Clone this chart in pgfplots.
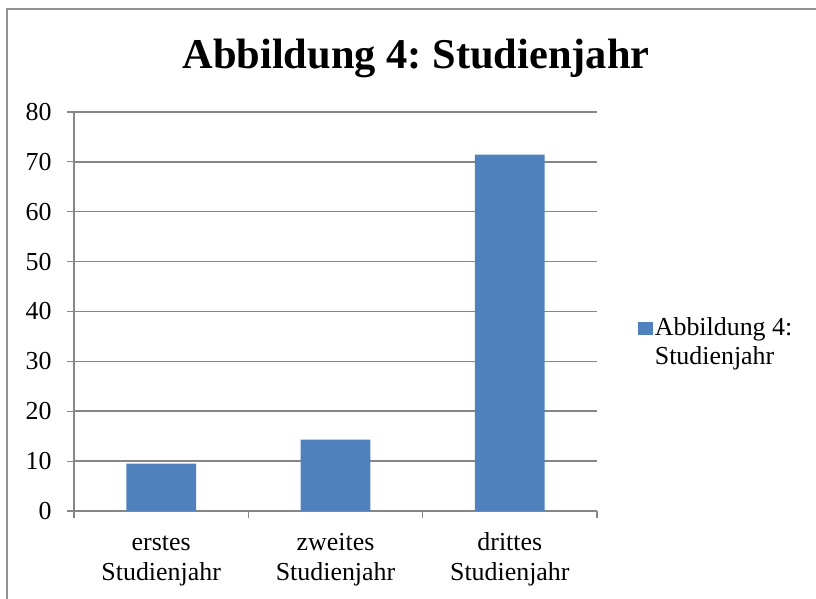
\documentclass[border=0pt]{standalone}
\usepackage{fontspec}
\setmainfont{Liberation Serif}
\usepackage{pgfplots}
\pgfplotsset{compat=1.18}
\definecolor{barblue}{HTML}{4F81BD}
\definecolor{gridgray}{HTML}{868686}
\begin{document}
\frenchspacing
\begin{tikzpicture}[x=1bp,y=1bp]
\path[use as bounding box] (0,0) rectangle (816,599);
\draw[gridgray!90, line width=1.2bp] (7,-5) -- (7,590) -- (821,590);
\node[font=\fontsize{42.6}{48}\selectfont\bfseries, anchor=base, inner sep=0pt] at (416,530.7) {Abbildung 4: Studienjahr};
\begin{axis}[
  at={(74bp,88bp)}, anchor=south west, scale only axis,
  width=523bp, height=399bp,
  xmin=-0.5, xmax=2.5, ymin=0, ymax=80, ytick={0,10,...,80},
  axis lines*=left,
  axis line style={gridgray, line width=1.2bp},
  ymajorgrids, major grid style={gridgray, line width=1.5bp},
  tick align=outside, major tick length=7bp,
  tick style={gridgray, line width=1.2bp},
  xtick={-0.5,0.5,1.5,2.5}, xticklabels={},
  extra x ticks={0,1,2},
  extra x tick labels={{\strut erstes\\Studienjahr},{\strut zweites\\Studienjahr},{\strut drittes\\Studienjahr}},
  extra x tick style={major tick length=0pt, xticklabel style={align=center, font=\fontsize{26}{30}\selectfont, yshift=-15bp}},
  yticklabel style={font=\fontsize{26}{30}\selectfont, xshift=-12bp},
  /pgf/number format/assume math mode=true,
  legend style={at={(axis description cs:1.072,0.425)}, anchor=west, draw=none, fill=none,
    font=\fontsize{26}{29}\selectfont, nodes={align=left}},
  legend image code/.code={\fill[barblue] (0bp,6bp) rectangle (15bp,19bp);},
]
\addplot[ybar, bar width=0.4, fill=barblue, draw=none] coordinates {(0,9.52) (1,14.29) (2,71.43)};
\addlegendentry{Abbildung 4:\\Studienjahr}
\end{axis}
\end{tikzpicture}
\end{document}
